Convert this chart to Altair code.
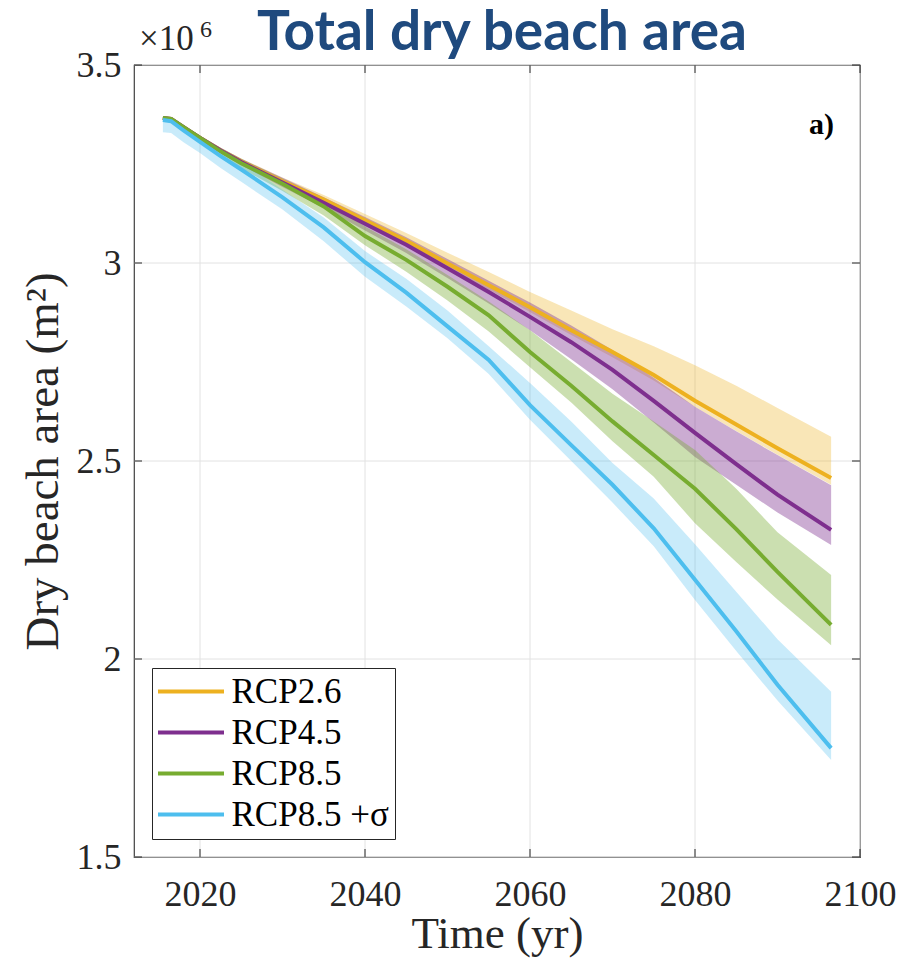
import altair as alt
import pandas as pd

# ---------------- data (values in units of 10^6 m^2) ----------------
years = [2015.5, 2016.5, 2018, 2020, 2022.5, 2025, 2030, 2035, 2040, 2045,
         2050, 2055, 2060, 2065, 2070, 2075, 2080, 2085, 2090, 2096.5]

series_names = ["RCP2.6", "RCP4.5", "RCP8.5", "RCP8.5 +σ"]

rcp26_mean = [3.366, 3.364, 3.343, 3.316, 3.284, 3.256, 3.206, 3.160, 3.108, 3.056,
              2.999, 2.944, 2.888, 2.830, 2.775, 2.717, 2.652, 2.592, 2.532, 2.457]
rcp26_lo = [3.363, 3.361, 3.339, 3.311, 3.278, 3.250, 3.199, 3.152, 3.099, 3.046,
            2.989, 2.933, 2.876, 2.818, 2.762, 2.703, 2.637, 2.576, 2.516, 2.440]
rcp26_hi = [3.369, 3.368, 3.348, 3.322, 3.291, 3.264, 3.216, 3.172, 3.124, 3.076,
            3.026, 2.977, 2.927, 2.880, 2.833, 2.790, 2.742, 2.690, 2.634, 2.561]

rcp45_mean = [3.366, 3.364, 3.343, 3.316, 3.284, 3.255, 3.203, 3.152, 3.099, 3.046,
              2.987, 2.927, 2.864, 2.800, 2.730, 2.652, 2.571, 2.492, 2.415, 2.326]
rcp45_lo = [3.362, 3.360, 3.338, 3.310, 3.277, 3.247, 3.192, 3.139, 3.082, 3.025,
            2.962, 2.898, 2.830, 2.757, 2.681, 2.597, 2.510, 2.440, 2.370, 2.288]
rcp45_hi = [3.369, 3.368, 3.348, 3.322, 3.291, 3.263, 3.215, 3.166, 3.116, 3.065,
            3.010, 2.955, 2.900, 2.842, 2.780, 2.710, 2.637, 2.575, 2.515, 2.439]

rcp85_mean = [3.366, 3.364, 3.343, 3.316, 3.282, 3.252, 3.200, 3.143, 3.068, 3.008,
              2.940, 2.868, 2.775, 2.690, 2.600, 2.515, 2.430, 2.328, 2.220, 2.086]
rcp85_lo = [3.362, 3.359, 3.336, 3.307, 3.271, 3.239, 3.182, 3.120, 3.045, 2.978,
            2.905, 2.827, 2.737, 2.648, 2.550, 2.460, 2.343, 2.245, 2.150, 2.035]
rcp85_hi = [3.369, 3.368, 3.348, 3.322, 3.291, 3.263, 3.213, 3.160, 3.092, 3.035,
            2.970, 2.903, 2.830, 2.750, 2.670, 2.600, 2.528, 2.430, 2.320, 2.212]

rcp85s_mean = [3.361, 3.358, 3.335, 3.306, 3.270, 3.236, 3.166, 3.090, 3.002, 2.925,
               2.840, 2.755, 2.641, 2.540, 2.440, 2.330, 2.200, 2.070, 1.935, 1.775]
rcp85s_lo = [3.330, 3.328, 3.305, 3.278, 3.240, 3.205, 3.135, 3.055, 2.965, 2.890,
             2.810, 2.720, 2.604, 2.500, 2.395, 2.285, 2.149, 2.020, 1.895, 1.745]
rcp85s_hi = [3.370, 3.369, 3.350, 3.316, 3.285, 3.255, 3.185, 3.115, 3.030, 2.960,
             2.880, 2.790, 2.697, 2.600, 2.495, 2.405, 2.290, 2.170, 2.050, 1.917]

x_ticks = [2020, 2040, 2060, 2080, 2100]
y_ticks = [1.5, 2, 2.5, 3, 3.5]

title_text = "Total dry beach area"
x_title = "Time (yr)"
y_title = "Dry beach area (m²)"

# ---------------- styles ----------------
colors = ["#EDB120", "#7E2F8E", "#77AC30", "#4DBEEE"]
band_alpha = [0.32, 0.40, 0.38, 0.30]
SERIF = "Liberation Serif"
AX = "#262626"
W, H = 726, 792
TL = 8  # inward tick length

rows = []
for name, m, lo, hi in zip(series_names,
                           [rcp26_mean, rcp45_mean, rcp85_mean, rcp85s_mean],
                           [rcp26_lo, rcp45_lo, rcp85_lo, rcp85s_lo],
                           [rcp26_hi, rcp45_hi, rcp85_hi, rcp85s_hi]):
    for yr, a, b, c in zip(years, m, lo, hi):
        rows.append({"series": name, "year": yr, "mean": a, "lo": b, "hi": c})
df = pd.DataFrame(rows)
xt = pd.DataFrame({"t": x_ticks})
yt = pd.DataFrame({"t": y_ticks})
one = pd.DataFrame({"k": [0]})

xs = alt.Scale(domain=[2012, 2100], nice=False, zero=False)
ys = alt.Scale(domain=[1.5, 3.5], nice=False, zero=False)
cs = alt.Scale(domain=series_names, range=colors)

x_axis = alt.Axis(values=x_ticks, format="d", ticks=False, tickSize=0, domain=False, grid=False,
                  labelFont=SERIF, labelFontSize=36, labelColor=AX, labelPadding=20,
                  labelFlush=False, labelOverlap=False,
                  titleFont=SERIF, titleFontSize=45, titleFontWeight="normal", titleColor=AX,
                  titleBaseline="alphabetic", titleY=90, titleX=W / 2)
y_axis = alt.Axis(values=y_ticks, format="~g", ticks=False, tickSize=0, domain=False, grid=False,
                  labelFont=SERIF, labelFontSize=36, labelColor=AX, labelPadding=13,
                  labelOverlap=False,
                  titleFont=SERIF, titleFontSize=47, titleFontWeight="normal", titleColor=AX,
                  titleBaseline="alphabetic", titleX=-77, titleY=H / 2)


def X(field):
    return alt.X(field, scale=xs, axis=x_axis, title=x_title)


def Y(field, **kw):
    return alt.Y(field, scale=ys, axis=y_axis, title=y_title, **kw)


grid_x = alt.Chart(xt).mark_rule(color="#e2e2e2", strokeWidth=1).encode(x=X("t:Q"))
grid_y = alt.Chart(yt).mark_rule(color="#e2e2e2", strokeWidth=1).encode(y=Y("t:Q"))

bands = [
    alt.Chart(df).transform_filter(alt.datum.series == name)
    .mark_area(color=col, opacity=a, strokeWidth=0)
    .encode(x=X("year:Q"), y=Y("lo:Q", stack=None), y2="hi:Q")
    for name, col, a in zip(series_names, colors, band_alpha)
]

lines = alt.Chart(df).mark_line(strokeWidth=4).encode(
    x=X("year:Q"),
    y=Y("mean:Q"),
    color=alt.Color("series:N", scale=cs, sort=series_names,
                    legend=alt.Legend(title=None, orient="bottom-left", offset=18,
                                      symbolType="M-3,0L3,0", symbolSize=484, symbolStrokeWidth=4,
                                      symbolOffset=15.5, labelOffset=23,
                                      labelFont=SERIF, labelFontSize=35, labelColor="#000000",
                                      padding=6, rowPadding=5,
                                      fillColor="white", strokeColor=AX)),
)

ticks_top = alt.Chart(xt).mark_rule(color=AX, strokeWidth=1).encode(
    x=X("t:Q"), y=alt.value(0), y2=alt.value(TL))
ticks_bot = alt.Chart(xt).mark_rule(color=AX, strokeWidth=1).encode(
    x=X("t:Q"), y=alt.value(H - TL), y2=alt.value(H))
ticks_left = alt.Chart(yt).mark_rule(color=AX, strokeWidth=1).encode(
    y=Y("t:Q"), x=alt.value(0), x2=alt.value(TL))
ticks_right = alt.Chart(yt).mark_rule(color=AX, strokeWidth=1).encode(
    y=Y("t:Q"), x=alt.value(W - TL), x2=alt.value(W))

exp_a = alt.Chart(one).mark_text(text="×10", font=SERIF, fontSize=35, color=AX,
                                 align="left", baseline="alphabetic").encode(
    x=alt.value(5), y=alt.value(-15))
exp_b = alt.Chart(one).mark_text(text="6", font=SERIF, fontSize=24, color=AX,
                                 align="left", baseline="alphabetic").encode(
    x=alt.value(66), y=alt.value(-28))
panel = alt.Chart(one).mark_text(text="a)", font=SERIF, fontSize=30, fontWeight="bold", color="#000000",
                                 align="right", baseline="alphabetic").encode(
    x=alt.value(700), y=alt.value(69))
title = alt.Chart(one).mark_text(text=title_text, font="Lato", fontSize=55, fontWeight="bold",
                                 color="#1F4A7E", align="center", baseline="alphabetic").encode(
    x=alt.value(W / 2 + 5), y=alt.value(-15))

chart = alt.layer(
    grid_x, grid_y, *bands, lines, ticks_top, ticks_bot, ticks_left, ticks_right,
    exp_a, exp_b, panel, title
).properties(
    width=W, height=H,
    autosize=alt.AutoSizeParams(type="none"),
    padding={"left": 126, "top": 57, "right": 36, "bottom": 103},
).configure_view(stroke="#404040", strokeWidth=1.2)

chart.save("out.html", embed_options={"renderer": "svg", "actions": False})
